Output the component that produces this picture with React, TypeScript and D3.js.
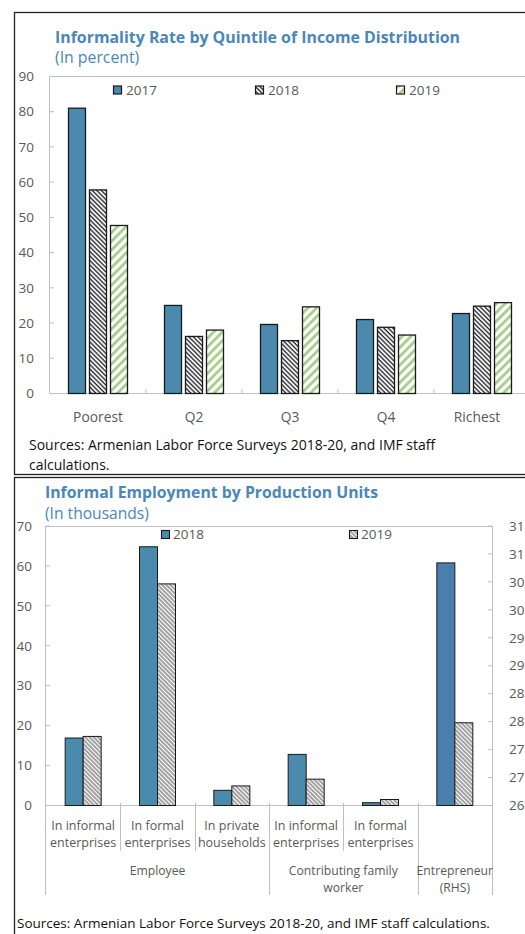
import React from "react";
import * as d3 from "d3";

// ---------- Data: top chart ----------
const topCategories = ["Poorest", "Q2", "Q3", "Q4", "Richest"];
const topSeries = ["2017", "2018", "2019"];
const rate2017 = [81.0, 25.0, 19.6, 21.0, 22.7];
const rate2018 = [57.8, 16.2, 15.0, 18.8, 24.8];
const rate2019 = [47.7, 18.0, 24.6, 16.6, 25.8];
const topTicks = [0, 10, 20, 30, 40, 50, 60, 70, 80, 90];

// ---------- Data: bottom chart ----------
const bottomSubCategories = [
  ["In informal", "enterprises"],
  ["In formal", "enterprises"],
  ["In private", "households"],
  ["In informal", "enterprises"],
  ["In formal", "enterprises"],
  [],
];
const bottomGroupLabels = [["Employee"], ["Contributing family", "worker"], ["Entrepreneur", "(RHS)"]];
const bottomGroupSizes = [3, 2, 1];
const bottomSeries = ["2018", "2019"];
const emp2018 = [16.9, 64.8, 3.8, 12.8, 0.7];
const emp2019 = [17.3, 55.5, 4.9, 6.6, 1.5];
const entrepreneur2018 = [30.34];
const entrepreneur2019 = [27.48];
const bottomLeftTicks = [0, 10, 20, 30, 40, 50, 60, 70];
const bottomRightTicks = [26, 26.5, 27, 27.5, 28, 28.5, 29, 29.5, 30, 30.5, 31];

const FONT = "'Open Sans', 'Noto Sans', sans-serif";
const TITLE_C = "#4a87b9";
const BLUE = "#4a8aad";
const BLUE_RHS = "#4a7fad";
const GRID = "#c0c0c0";
const LABEL = "#595959";

export default function App() {
  // ===== Top chart scales =====
  const tX = d3.scaleBand<string>().domain(topCategories).range([50, 530]).paddingInner(0).paddingOuter(0);
  const tStep = 21;
  const tPadIn = 4 / 21;
  const tPadOut = (tX.bandwidth() / tStep - 3 + tPadIn) / 2;
  const tX1 = d3.scaleBand<string>().domain(topSeries).range([0, tX.bandwidth()]).paddingInner(tPadIn).paddingOuter(tPadOut);
  const tY = d3.scaleLinear().domain([0, 90]).range([393.5, 76.5]);
  const topValues: Record<string, number[]> = { "2017": rate2017, "2018": rate2018, "2019": rate2019 };
  const topFill: Record<string, string> = { "2017": BLUE, "2018": "url(#hatchTop)", "2019": "url(#greenHatch)" };
  const topLabelMaxX = 477; // labels are kept inside the visible chart area

  // ===== Bottom chart scales =====
  const bCats = d3.range(bottomSubCategories.length).map(String);
  const bX = d3.scaleBand<string>().domain(bCats).range([46, 492]).paddingInner(0).paddingOuter(0);
  const bPadOut = (bX.bandwidth() / 18 - 2) / 2;
  const bX1 = d3.scaleBand<string>().domain(bottomSeries).range([0, bX.bandwidth()]).paddingInner(0).paddingOuter(bPadOut);
  const bY = d3.scaleLinear().domain([0, 70]).range([805.5, 526]);
  const bY2 = d3.scaleLinear().domain([26, 31]).range([805.5, 526]);

  const bottomBars: { cat: string; s: string; v: number; rhs: boolean }[] = [];
  emp2018.forEach((v, i) => bottomBars.push({ cat: String(i), s: "2018", v, rhs: false }));
  emp2019.forEach((v, i) => bottomBars.push({ cat: String(i), s: "2019", v, rhs: false }));
  entrepreneur2018.forEach((v) => bottomBars.push({ cat: "5", s: "2018", v, rhs: true }));
  entrepreneur2019.forEach((v) => bottomBars.push({ cat: "5", s: "2019", v, rhs: true }));

  const groupStarts: number[] = [];
  let acc = 0;
  bottomGroupSizes.forEach((n) => {
    groupStarts.push(acc);
    acc += n;
  });
  const groupBoundaryIdx = new Set([...groupStarts, acc]);

  return (
    <svg
      width={525}
      height={934}
      style={{ position: "absolute", left: 0, top: 0, background: "#fff" }}
      fontFamily={FONT}
    >
      <defs>
        <pattern id="hatchTop" patternUnits="userSpaceOnUse" width={3.2} height={3.2} patternTransform="rotate(-45)">
          <rect width={3.2} height={3.2} fill="#fff" />
          <line x1={1} y1={0} x2={1} y2={3.2} stroke="#2a2a2a" strokeWidth={1.4} />
        </pattern>
        <pattern id="greenHatch" patternUnits="userSpaceOnUse" width={6.2} height={6.2} patternTransform="rotate(45)">
          <rect width={6.2} height={6.2} fill="#fff" />
          <line x1={1.5} y1={0} x2={1.5} y2={6.2} stroke="#a3cf86" strokeWidth={2.8} />
        </pattern>
        <pattern id="hatchBottom" patternUnits="userSpaceOnUse" width={3} height={3} patternTransform="rotate(-45)">
          <rect width={3} height={3} fill="#fff" />
          <line x1={1} y1={0} x2={1} y2={3} stroke="#222" strokeWidth={0.85} />
        </pattern>
      </defs>
      <rect x={0} y={0} width={525} height={934} fill="#fff" />

      {/* ================= TOP PANEL ================= */}
      <rect x={14.5} y={12.5} width={530} height={462} fill="none" stroke="#222" strokeWidth={1.3} />
      <text x={55} y={43} fontSize={15.9} fontWeight={700} fill={TITLE_C}>
        Informality Rate by Quintile of Income Distribution
      </text>
      <text x={55} y={63} fontSize={15.8} fill={TITLE_C}>
        (In percent)
      </text>

      <line x1={50} x2={540} y1={76.5} y2={76.5} stroke={GRID} />
      <line x1={49.5} x2={49.5} y1={76.5} y2={393.5} stroke={GRID} />
      <line x1={50} x2={540} y1={393.5} y2={393.5} stroke={GRID} />
      {topTicks.map((t) => (
        <g key={"tt" + t}>
          <line x1={50} x2={54} y1={tY(t)} y2={tY(t)} stroke={GRID} />
          <text x={34} y={tY(t)} dy="0.35em" textAnchor="end" fontSize={13.5} fill={LABEL}>
            {t}
          </text>
        </g>
      ))}
      {topCategories.slice(1).map((c) => (
        <line key={"tb" + c} x1={tX(c)!} x2={tX(c)!} y1={393.5} y2={389} stroke={GRID} />
      ))}
      {topCategories.map((c) => (
        <text
          key={"tl" + c}
          x={Math.min(tX(c)! + tX.bandwidth() / 2, topLabelMaxX)}
          y={417}
          dy="0.35em"
          textAnchor="middle"
          fontSize={13.8}
          fill={LABEL}
        >
          {c}
        </text>
      ))}
      {topSeries.map((s) =>
        topCategories.map((c, i) => {
          const v = topValues[s][i];
          return (
            <rect
              key={s + c}
              x={tX(c)! + tX1(s)!}
              y={tY(v)}
              width={tX1.bandwidth()}
              height={tY(0) - tY(v)}
              fill={topFill[s]}
              stroke="#1a1a1a"
              strokeWidth={1.3}
            />
          );
        })
      )}
      {topSeries.map((s, i) => {
        const lx = [113, 255, 396][i];
        return (
          <g key={"lg" + s}>
            <rect x={lx + 0.5} y={86} width={8} height={8} fill={topFill[s]} stroke="#1a1a1a" strokeWidth={1.2} />
            <text x={lx + 13} y={90} dy="0.35em" fontSize={13.5} fill={LABEL}>
              {s}
            </text>
          </g>
        );
      })}
      <text x={29} y={445} dy="0.35em" fontSize={14} fill="#111">
        Sources: Armenian Labor Force Surveys 2018-20, and IMF staff
      </text>
      <text x={29} y={465} dy="0.35em" fontSize={14} fill="#111">
        calculations.
      </text>

      {/* ================= BOTTOM PANEL ================= */}
      <rect x={14.5} y={477.5} width={530} height={480} fill="none" stroke="#222" strokeWidth={1.3} />
      <text x={45} y={498} fontSize={15.8} fontWeight={700} fill={TITLE_C}>
        Informal Employment by Production Units
      </text>
      <text x={45} y={519} fontSize={15.6} fill={TITLE_C}>
        (In thousands)
      </text>

      <line x1={46} x2={492} y1={526.5} y2={526.5} stroke={GRID} />
      <line x1={45.5} x2={45.5} y1={526} y2={895} stroke={GRID} />
      <line x1={492.5} x2={492.5} y1={526} y2={895} stroke={GRID} />
      <line x1={46} x2={493} y1={805.5} y2={805.5} stroke={GRID} />
      {bottomLeftTicks.map((t) => (
        <g key={"bl" + t}>
          <line x1={46} x2={50} y1={bY(t)} y2={bY(t)} stroke={GRID} />
          <text x={32} y={bY(t)} dy="0.35em" textAnchor="end" fontSize={13.5} fill={LABEL}>
            {t}
          </text>
        </g>
      ))}
      {bottomRightTicks.map((t) => (
        <g key={"br" + t}>
          <line x1={488} x2={492} y1={bY2(t)} y2={bY2(t)} stroke={GRID} />
          <text x={509} y={bY2(t)} dy="0.35em" textAnchor="start" fontSize={13.5} fill={LABEL}>
            {d3.format(".0f")(Math.round(t))}
          </text>
        </g>
      ))}
      {bCats.slice(1).map((c, i) => {
        const isGroup = groupBoundaryIdx.has(i + 1);
        return (
          <line
            key={"bd" + c}
            x1={Math.round(bX(c)!) + 0.5}
            x2={Math.round(bX(c)!) + 0.5}
            y1={803}
            y2={isGroup ? 895 : 851}
            stroke={GRID}
          />
        );
      })}
      {bottomSubCategories.map((lines, i) =>
        lines.map((ln, j) => (
          <text
            key={"bs" + i + j}
            x={bX(String(i))! + bX.bandwidth() / 2}
            y={826 + j * 17}
            dy="0.35em"
            textAnchor="middle"
            fontSize={12.5}
            fill={LABEL}
          >
            {ln}
          </text>
        ))
      )}
      {bottomGroupLabels.map((lines, g) => {
        const start = bX(String(groupStarts[g]))!;
        const end = bX(String(groupStarts[g] + bottomGroupSizes[g] - 1))! + bX.bandwidth();
        return lines.map((ln, j) => (
          <text
            key={"bg" + g + j}
            x={(start + end) / 2}
            y={871 + j * 17}
            dy="0.35em"
            textAnchor="middle"
            fontSize={12.2}
            fill={LABEL}
          >
            {ln}
          </text>
        ));
      })}
      {bottomBars.map((b, i) => {
        const sc = b.rhs ? bY2 : bY;
        const base = b.rhs ? bY2(26) : bY(0);
        return (
          <rect
            key={"bb" + i}
            x={bX(b.cat)! + bX1(b.s)!}
            y={sc(b.v)}
            width={bX1.bandwidth()}
            height={base - sc(b.v)}
            fill={b.s === "2018" ? (b.rhs ? BLUE_RHS : BLUE) : "url(#hatchBottom)"}
            stroke="#1a1a1a"
            strokeWidth={1}
          />
        );
      })}
      {bottomSeries.map((s, i) => {
        const lx = [161, 349][i];
        return (
          <g key={"blg" + s}>
            <rect x={lx + 0.5} y={530.5} width={8} height={8} fill={s === "2018" ? BLUE : "url(#hatchBottom)"} stroke="#1a1a1a" strokeWidth={1.1} />
            <text x={lx + 12} y={534.5} dy="0.35em" fontSize={13.5} fill={LABEL}>
              {s}
            </text>
          </g>
        );
      })}
      <text x={17} y={923} dy="0.35em" fontSize={13.5} fill="#111">
        Sources: Armenian Labor Force Surveys 2018-20, and IMF staff calculations.
      </text>
    </svg>
  );
}
